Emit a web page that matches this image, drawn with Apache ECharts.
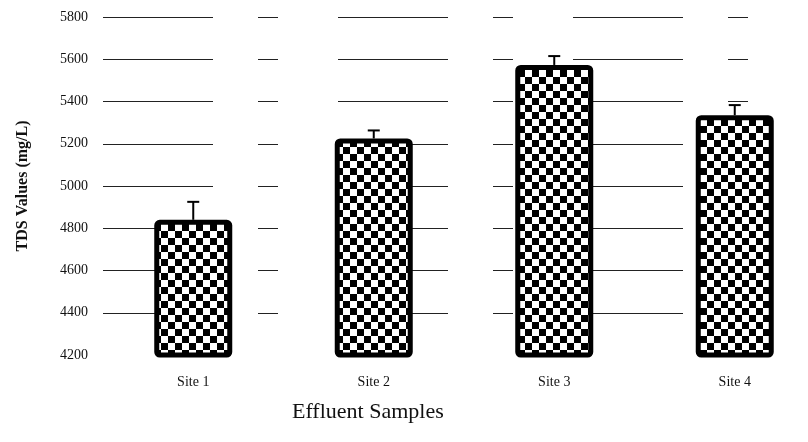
<!DOCTYPE html>
<html>
<head>
<meta charset="utf-8">
<script src="https://cdn.jsdelivr.net/npm/echarts@6/dist/echarts.min.js"></script>
<style>html,body{margin:0;padding:0;background:#fff}#c{width:808px;height:442px}</style>
</head>
<body>
<div id="c"></div>
<script>
var categories = ['Site 1', 'Site 2', 'Site 3', 'Site 4'];
var tdsValues = [4840, 5225, 5573, 5335];
var tdsErrors = [85, 38, 42, 48];
var yMin = 4200, yMax = 5800, yStep = 200;

var pat = document.createElement('canvas');
pat.width = 14; pat.height = 14;
var pc = pat.getContext('2d');
pc.fillStyle = '#fff'; pc.fillRect(0, 0, 14, 14);
pc.fillStyle = '#000';
pc.fillRect(0, 0, 7, 7);
pc.fillRect(7, 7, 7, 7);

var chart = echarts.init(document.getElementById('c'), null, {renderer: 'canvas'});
var serif = 'Liberation Serif';
chart.setOption({
  animation: false,
  backgroundColor: '#fff',
  title: {
    text: 'Effluent Samples',
    left: 287, top: 396,
    textStyle: {fontFamily: serif, fontSize: 22, fontWeight: 'normal', color: '#111'}
  },
  grid: {left: 103, width: 722, top: 17, height: 338, containLabel: false, outerBoundsMode: 'none'},
  xAxis: {
    type: 'category',
    data: categories,
    axisLine: {show: false},
    axisTick: {show: false},
    axisLabel: {fontFamily: serif, fontSize: 14, color: '#111', margin: 20}
  },
  yAxis: {
    type: 'value',
    min: yMin, max: yMax, interval: yStep,
    name: 'TDS Values (mg/L)',
    nameLocation: 'middle',
    nameRotate: 90,
    nameGap: 72,
    nameTextStyle: {fontFamily: serif, fontSize: 16, fontWeight: 'bold', color: '#111'},
    axisLine: {show: false},
    axisTick: {show: false},
    axisLabel: {fontFamily: serif, fontSize: 14, color: '#111', margin: 15, formatter: function (v) { return String(v); }},
    splitLine: {show: true, showMinLine: false, lineStyle: {color: '#222', width: 1.2, type: [110, 45, 20, 60]}}
  },
  series: [
    {
      type: 'bar',
      data: tdsValues,
      barWidth: 78,
      itemStyle: {
        color: {image: pat, repeat: 'repeat'},
        borderColor: '#000',
        borderWidth: 5,
        borderRadius: 3
      },
      z: 2
    },
    {
      type: 'custom',
      z: 3,
      data: tdsValues.map(function (v, i) { return [i, v, tdsErrors[i]]; }),
      renderItem: function (params, api) {
        var i = api.value(0), v = api.value(1), e = api.value(2);
        var p0 = api.coord([i, v]);
        var p1 = api.coord([i, v + e]);
        var hw = 6;
        return {
          type: 'group',
          children: [
            {type: 'line', shape: {x1: p0[0], y1: p0[1], x2: p1[0], y2: p1[1]}, style: {stroke: '#000', lineWidth: 2}},
            {type: 'line', shape: {x1: p1[0] - hw, y1: p1[1], x2: p1[0] + hw, y2: p1[1]}, style: {stroke: '#000', lineWidth: 2}}
          ]
        };
      }
    }
  ]
});
</script>
</body>
</html>
